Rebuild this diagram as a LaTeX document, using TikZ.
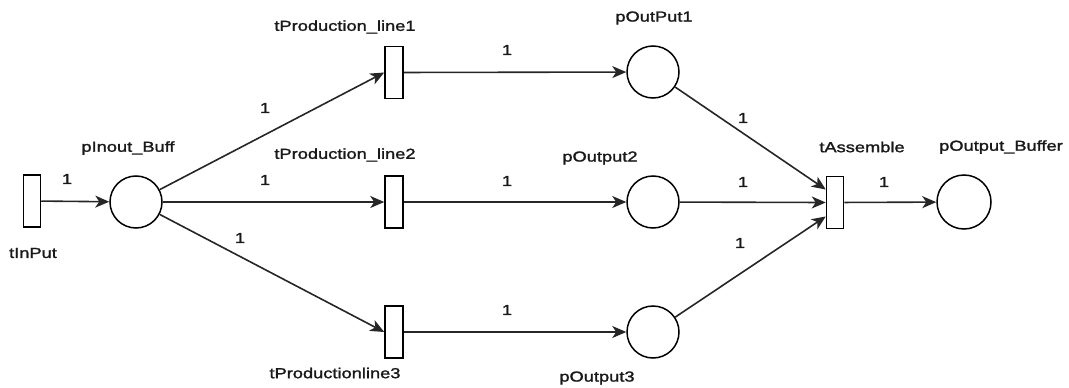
\documentclass[tikz,border=0pt]{standalone}
\usepackage{fontspec}
\setmainfont{Liberation Sans}[FakeStretch=1.26,FakeBold=1.6]
\usetikzlibrary{arrows.meta}
\begin{document}
\begin{tikzpicture}[x=1pt,y=-1pt,
  trans/.style={draw=black,line width=1.5pt,fill=white,rectangle,minimum width=17pt,minimum height=52pt,inner sep=0pt},
  place/.style={draw=black,line width=1.5pt,fill=white,circle,minimum size=52pt,inner sep=0pt},
  lbl/.style={font=\fontsize{14.5}{17}\selectfont,text=black!90,inner sep=0pt},
  arc/.style={draw=black!85,line width=1.6pt,-{Stealth[length=14pt,width=12pt,inset=4pt]}}]
\useasboundingbox (0,0) rectangle (1069,388);
% transitions and places
\node[trans] (tIn) at (32,201) {};
\node[place] (pIn) at (136,202) {};
\node[trans,minimum width=18pt] (tP1) at (394,72.5) {};
\node[trans,minimum width=18pt] (tP2) at (394,202) {};
\node[trans,minimum width=18pt] (tP3) at (394,332) {};
\node[place] (pO1) at (653,72) {};
\node[place] (pO2) at (653,202) {};
\node[place] (pO3) at (653,332) {};
\node[trans] (tA) at (835,202.5) {};
\node[place,minimum size=54pt] (pOB) at (964,202) {};
% names
\node[lbl] (ntIn) at (33,253) {tInPut};
\node[lbl] (npIn) at (128,148) {pInout\_Buff};
\node[lbl] (ntP1) at (345,27) {tProduction\_line1};
\node[lbl] (ntP2) at (345,155) {tProduction\_line2};
\node[lbl] (ntP3) at (335,373) {tProductionline3};
\node[lbl] (npO1) at (654,18) {pOutPut1};
\node[lbl] (npO2) at (600,158) {pOutput2};
\node[lbl] (npO3) at (597,378) {pOutput3};
\node[lbl] (ntA) at (862,147) {tAssemble};
\node[lbl] (npOB) at (1001,147) {pOutput\_Buffer};
% arc end points on tAssemble
\coordinate (a1) at ([yshift=13pt]tA.west);
\coordinate (a2) at (tA.west);
\coordinate (a3) at ([yshift=-14pt]tA.west);
% arcs
\draw[arc] (tIn) -- (pIn);
\draw[arc] (pIn) -- (tP1.west);
\draw[arc] (pIn) -- (tP2.west);
\draw[arc] (pIn) -- (tP3.west);
\draw[arc] (tP1) -- (pO1);
\draw[arc] (tP2) -- (pO2);
\draw[arc] (tP3) -- (pO3);
\draw[arc] (pO1) -- (a1);
\draw[arc] (pO2) -- (a2);
\draw[arc] (pO3) -- (a3);
\draw[arc] (tA) -- (pOB);
% weights
\node[lbl] (w1) at (67,179) {1};
\node[lbl] (w2) at (265,108) {1};
\node[lbl] (w3) at (265,180) {1};
\node[lbl] (w4) at (240,238) {1};
\node[lbl] (w5) at (507,50) {1};
\node[lbl] (w6) at (507,181) {1};
\node[lbl] (w7) at (507,310) {1};
\node[lbl] (w8) at (743,118) {1};
\node[lbl] (w9) at (743,182) {1};
\node[lbl] (w10) at (740,243) {1};
\node[lbl] (w11) at (884,182) {1};
\end{tikzpicture}
\end{document}
